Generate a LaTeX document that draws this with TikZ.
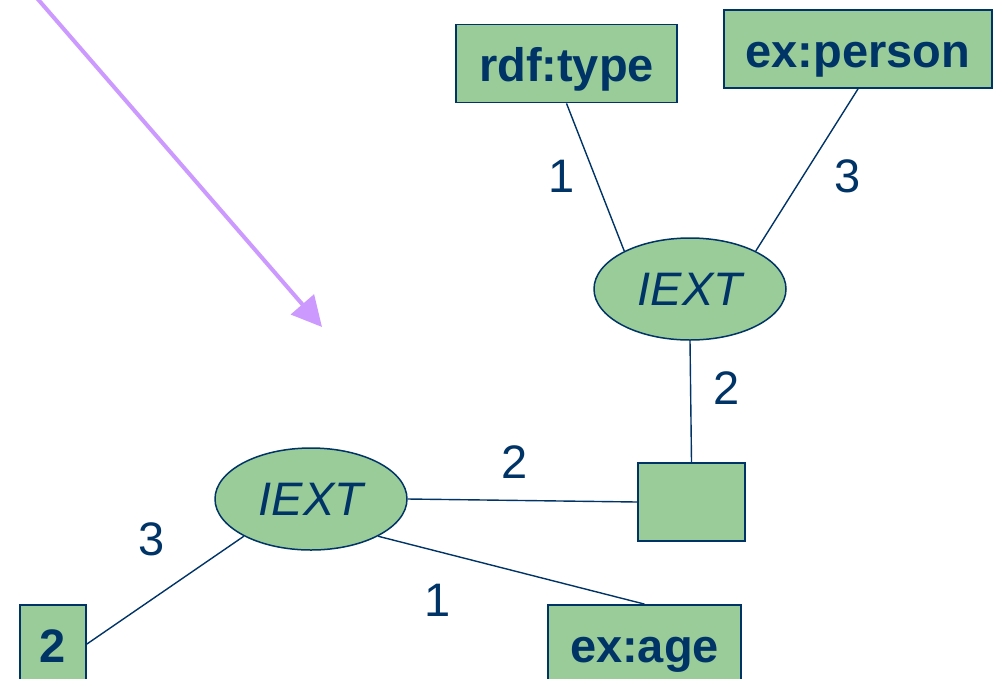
\documentclass[tikz,border=0pt]{standalone}
\usepackage{fontspec}
\setmainfont{Liberation Sans}
\usetikzlibrary{shapes.geometric,arrows.meta}
\definecolor{navy}{HTML}{003366}
\definecolor{leaf}{HTML}{99CC99}
\definecolor{lilac}{HTML}{CC99FF}
\begin{document}
\begin{tikzpicture}[x=1pt,y=-1pt,
  txt/.style={font=\fontsize{47}{50}\selectfont, text=navy},
  term/.style={draw=navy, line width=1.8pt, fill=leaf, inner sep=0pt,
    minimum height=78pt, text height=44pt, text depth=8pt,
    font=\fontsize{47}{50}\selectfont\bfseries, text=navy},
  blank/.style={term, minimum width=107pt},
  relnode/.style={ellipse, draw=navy, line width=1.5pt, fill=leaf, inner sep=0pt,
    minimum width=192pt, minimum height=102pt,
    font=\fontsize{47}{50}\selectfont\itshape, text=navy},
  link/.style={draw=navy, line width=1.4pt},
  lbl/.style={txt, inner sep=0pt}]
\useasboundingbox (0,0) rectangle (1000,678);

% terms and the blank node
\node[term, minimum width=221pt] (rt) at (566.5,63.5) {rdf:type};
\node[term, minimum width=268pt] (ep) at (858,49) {ex:person};
\node[blank] (sq) at (691.5,502) {};
\node[term, minimum width=66pt] (two) at (53,644) {2};
\node[term, minimum width=193pt] (age) at (644.5,644) {ex:age};

% IEXT relations
\node[relnode] (e1) at (690,289) {IEXT};
\node[relnode] (e2) at (311,499) {IEXT};

% connectors
\draw[link] (rt.south) -- (e1.150);
\draw[link] (ep.south) -- (e1.30);
\draw[link] (e1.south) -- (sq.north);
\draw[link] (e2.east) -- (sq.west);
\draw[link] (e2.-29) -- (age.north);
\draw[link] (e2.209) -- (two.east);

% argument positions
\node[lbl] (l1) at (562,176) {1};
\node[lbl] (l2) at (848,176) {3};
\node[lbl] (l3) at (727,388) {2};
\node[lbl] (l4) at (515,462) {2};
\node[lbl] (l5) at (152,539) {3};
\node[lbl] (l6) at (438,600) {1};

% pointer arrow
\coordinate (as) at (36,-3);
\coordinate (ae) at (322,327);
\draw[lilac, line width=4pt, -{Triangle[length=30pt,width=30pt]}] (as) -- (ae);
\end{tikzpicture}
\end{document}
